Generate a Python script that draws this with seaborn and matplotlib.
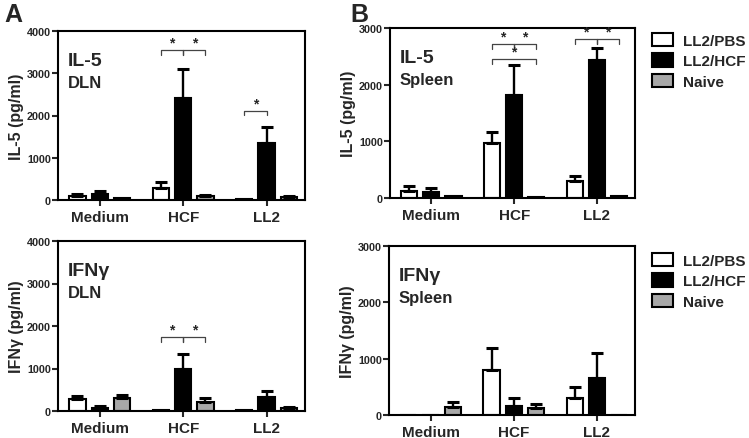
"""
Cytokine release (IL-5, IFNg) from DLN and spleen cells, grouped bar chart.
"""

import pandas as pd
import matplotlib.pyplot as plt
import seaborn as sns
from matplotlib.patches import Patch

# categories and groups
stimuli = ["Medium", "HCF", "LL2"]
groups = ["LL2/PBS", "LL2/HCF", "Naive"]
colors = ["white", "black", "#a8a8a8"]

# values per group, in stimulus order (pg/ml), with upper SEM
il5_dln = {"LL2/PBS": [95, 280, 15], "LL2/HCF": [135, 2410, 1360], "Naive": [40, 87, 70]}
il5_dln_err = {"LL2/PBS": [55, 155, 0], "LL2/HCF": [80, 680, 360], "Naive": [0, 23, 25]}

il5_spleen = {"LL2/PBS": [118, 972, 300], "LL2/HCF": [100, 1809, 2440], "Naive": [41, 18, 40]}
il5_spleen_err = {"LL2/PBS": [88, 200, 95], "LL2/HCF": [71, 530, 206], "Naive": [0, 0, 0]}

ifng_dln = {"LL2/PBS": [275, 24, 24], "LL2/HCF": [79, 1000, 331], "Naive": [315, 213, 79]}
ifng_dln_err = {"LL2/PBS": [79, 0, 0], "LL2/HCF": [39, 339, 141], "Naive": [63, 87, 23]}

ifng_spleen = {"LL2/PBS": [0, 793, 308], "LL2/HCF": [0, 154, 663], "Naive": [148, 130, 0]}
ifng_spleen_err = {"LL2/PBS": [0, 390, 195], "LL2/HCF": [0, 142, 432], "Naive": [89, 59, 0]}

# significance brackets: (stimulus index, group a, group b, height)
il5_dln_sig = [(1, 0, 1, 3540), (1, 1, 2, 3540), (2, 0, 1, 2115)]
il5_spleen_sig = [(1, 0, 1, 2710), (1, 1, 2, 2710), (1, 0, 2, 2445),
                  (2, 0, 1, 2800), (2, 1, 2, 2800)]
ifng_dln_sig = [(1, 0, 1, 1730), (1, 1, 2, 1730)]
ifng_spleen_sig = []

W, H = 749, 439
FONT = "Liberation Sans"


def to_frame(vals, errs):
    rows = []
    for g in groups:
        for i, s in enumerate(stimuli):
            rows.append({"stim": s, "group": g, "value": vals[g][i], "err": errs[g][i]})
    return pd.DataFrame(rows)


def draw_panel(fig, box, vals, errs, sigs, ymax, ylabel, title, tissue):
    left, top, right, bottom = box
    ax = fig.add_axes([left / W, 1 - bottom / H, (right - left) / W, (bottom - top) / H])
    df = to_frame(vals, errs)
    sns.barplot(data=df, x="stim", y="value", hue="group", order=stimuli,
                hue_order=groups, palette=colors, edgecolor="black", linewidth=1.5,
                width=0.8, gap=0.27, errorbar=None, legend=False, ax=ax)

    # upper-only error bars, positioned from the drawn bars
    centers = {}
    for k, bar in enumerate(ax.patches[:len(groups) * len(stimuli)]):
        g, s = divmod(k, len(stimuli))
        x = bar.get_x() + bar.get_width() / 2
        h = bar.get_height()
        centers[(s, g)] = x
        e = errs[groups[g]][s]
        if e > 0:
            ax.errorbar(x, h, yerr=[[0], [e]], fmt="none", ecolor="black",
                        elinewidth=1.7, capsize=4, capthick=2.2, zorder=1)

    tick = ymax * 0.025
    for s, a, b, y in sigs:
        xa, xb = centers[(s, a)], centers[(s, b)]
        ax.plot([xa, xa, xb, xb], [y - tick, y, y, y - tick], color="#444444", lw=0.9)
        ax.text((xa + xb) / 2, y + ymax * 0.003, "*", ha="center", va="bottom",
                fontsize=10, fontweight="bold", family=FONT)

    ax.set_xlim(-0.5, 2.46)
    ax.set_ylim(0, ymax)
    ax.set_yticks(range(0, ymax + 1, 1000))
    ax.set_xlabel("")
    ax.set_ylabel(ylabel, fontsize=11.5, fontweight="bold", family=FONT, labelpad=2)
    for sp in ax.spines.values():
        sp.set_linewidth(1.5)
        sp.set_color("black")
    ax.tick_params(axis="y", length=4, width=1.5, labelsize=7.8, pad=1)
    ax.tick_params(axis="x", length=4, width=1.5, labelsize=11, pad=3)
    for lab in ax.get_yticklabels() + ax.get_xticklabels():
        lab.set_fontweight("bold")
        lab.set_family(FONT)

    ax.text(0.04, 0.80, title, transform=ax.transAxes, fontsize=14,
            fontweight="bold", family=FONT)
    ax.text(0.04, 0.67, tissue, transform=ax.transAxes, fontsize=12,
            fontweight="bold", family=FONT)
    return ax


def add_legend(fig, x, y):
    handles = [Patch(facecolor=c, edgecolor="black", linewidth=1.5) for c in colors]
    leg = fig.legend(handles, groups, loc="upper left", bbox_to_anchor=(x / W, 1 - y / H),
                     frameon=False, handlelength=1.4, handleheight=0.95,
                     labelspacing=0.36, handletextpad=0.65, borderaxespad=0,
                     borderpad=0, prop={"family": FONT, "weight": "bold", "size": 11})
    return leg


if __name__ == "__main__":
    sns.set_style("ticks")
    plt.rcParams["font.family"] = [FONT, "DejaVu Sans"]

    fig = plt.figure(figsize=(W / 100, H / 100), dpi=100)

    draw_panel(fig, (58, 32, 305, 201), il5_dln, il5_dln_err, il5_dln_sig,
               4000, "IL-5 (pg/ml)", "IL-5", "DLN")
    draw_panel(fig, (390, 29, 635, 199), il5_spleen, il5_spleen_err, il5_spleen_sig,
               3000, "IL-5 (pg/ml)", "IL-5", "Spleen")
    draw_panel(fig, (58, 242, 305, 412), ifng_dln, ifng_dln_err, ifng_dln_sig,
               4000, "IFNγ (pg/ml)", "IFNγ", "DLN")
    draw_panel(fig, (389, 247, 635, 416), ifng_spleen, ifng_spleen_err, ifng_spleen_sig,
               3000, "IFNγ (pg/ml)", "IFNγ", "Spleen")

    add_legend(fig, 652, 34)
    add_legend(fig, 652, 254)

    fig.text(4 / W, 1 - 3 / H, "A", fontsize=18, fontweight="bold", va="top", family=FONT)
    fig.text(350 / W, 1 - 3 / H, "B", fontsize=18, fontweight="bold", va="top", family=FONT)

    fig.savefig("out.png", dpi=100)
